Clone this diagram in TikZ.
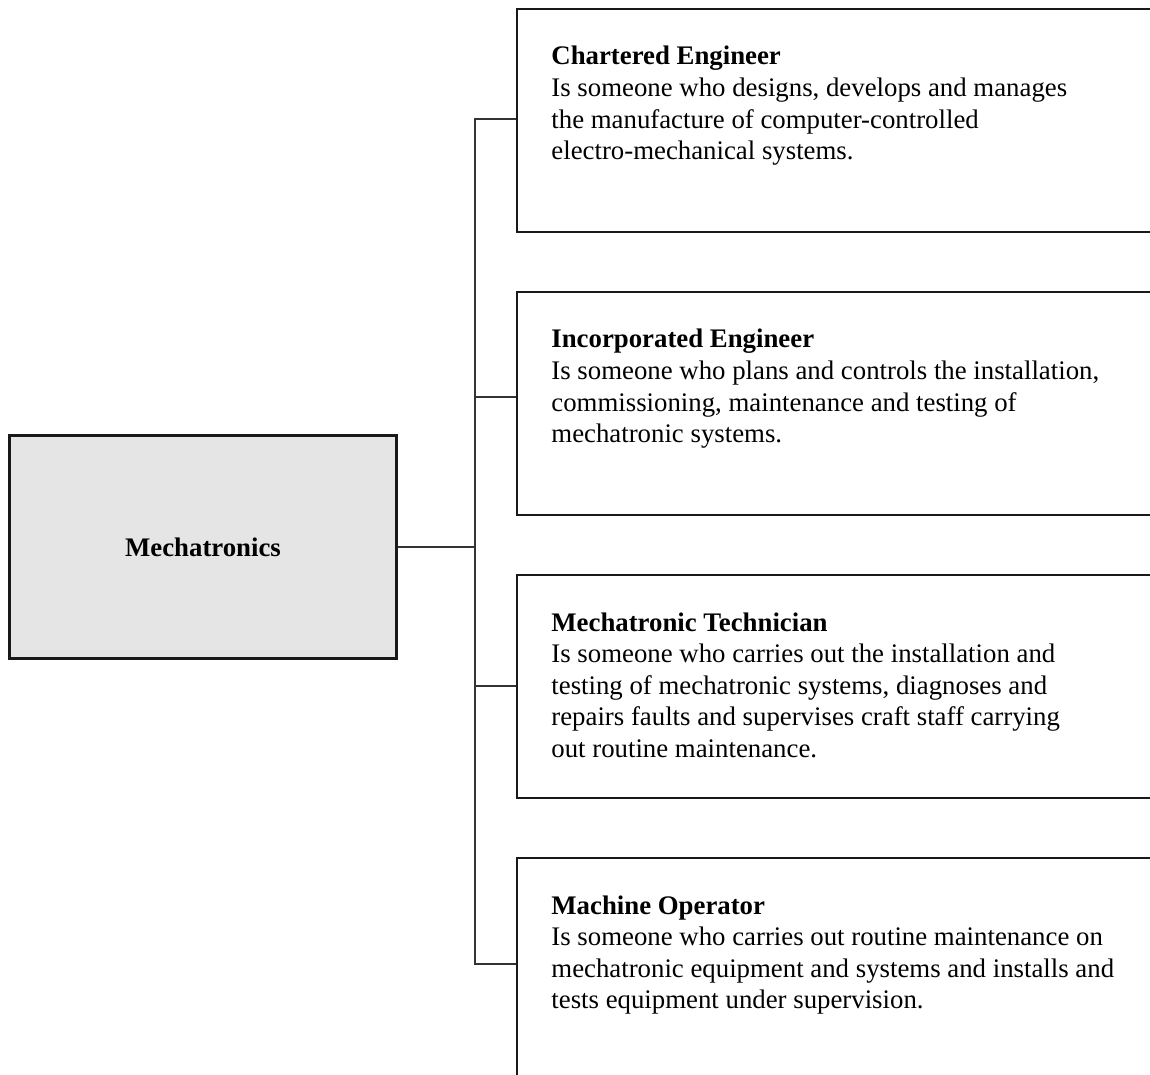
\documentclass[tikz,border=0pt]{standalone}
\usepackage{fontspec}
\setmainfont{Liberation Serif}
\usetikzlibrary{positioning,calc}

\definecolor{boxgray}{HTML}{E5E5E5}
\definecolor{linegray}{HTML}{333333}

\tikzset{
  mainbox/.style={draw=black!90, line width=1.2pt, fill=boxgray,
    minimum width=193.5pt, minimum height=111.5pt,
    font=\fontsize{13.4}{15.8}\selectfont\bfseries},
  rolebox/.style={draw=black!90, line width=1.2pt,
    minimum width=330pt, minimum height=111.5pt},
  roletext/.style={anchor=north west, inner sep=0pt, align=left,
    font=\fontsize{13.4}{15.8}\selectfont},
  link/.style={draw=linegray, line width=1pt},
}

\begin{document}
\begin{tikzpicture}[x=0.5pt,y=-0.5pt]
  % page frame, in pixels of the original
  \useasboundingbox (0,0) rectangle (1150,1075);

  % the discipline
  \node[mainbox] (mech) at (203,547) {Mechatronics};
  \coordinate (hub) at (475,547);

  % the four roles, stacked down the right side
  \node[rolebox, anchor=north west] (chartered) at (516,8) {};
  \node[rolebox, below=28.8pt of chartered] (incorporated) {};
  \node[rolebox, below=28.8pt of incorporated] (technician) {};
  \node[rolebox, below=28.8pt of technician] (operator) {};

  % role descriptions
  \node[roletext] (chartered-txt) at ($(chartered.north west)+(35,38)$)
    {\textbf{Chartered Engineer}\\
     Is someone who designs, develops and manages\\
     the manufacture of computer-controlled\\
     electro-mechanical systems.};
  \node[roletext] (incorporated-txt) at ($(incorporated.north west)+(35,38)$)
    {\textbf{Incorporated Engineer}\\
     Is someone who plans and controls the installation,\\
     commissioning, maintenance and testing of\\
     mechatronic systems.};
  \node[roletext] (technician-txt) at ($(technician.north west)+(35,38)$)
    {\textbf{Mechatronic Technician}\\
     Is someone who carries out the installation and\\
     testing of mechatronic systems, diagnoses and\\
     repairs faults and supervises craft staff carrying\\
     out routine maintenance.};
  \node[roletext] (operator-txt) at ($(operator.north west)+(35,38)$)
    {\textbf{Machine Operator}\\
     Is someone who carries out routine maintenance on\\
     mechatronic equipment and systems and installs and\\
     tests equipment under supervision.};

  % tree connectors
  \draw[link] (mech.east) -- (hub);
  \draw[link] (hub) |- ([yshift=1pt]chartered.west);
  \draw[link] (hub) |- ([yshift=3.5pt]incorporated.west);
  \draw[link] (hub) |- ([yshift=0.5pt]technician.west);
  \draw[link] (hub) |- ([yshift=3pt]operator.west);
\end{tikzpicture}
\end{document}
